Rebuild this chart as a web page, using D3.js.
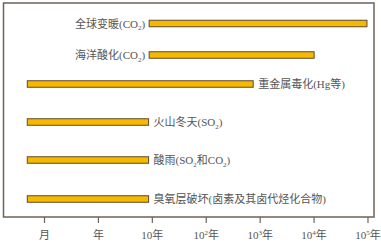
<!DOCTYPE html>
<html>
<head>
<meta charset="utf-8">
<script src="https://cdn.jsdelivr.net/npm/d3@7"></script>
<style>
  body { margin: 0; background: #fff; }
  text { font-family: "Liberation Serif", "Noto Sans CJK SC", serif; fill: #555; }
</style>
</head>
<body>
<div id="chart"></div>
<script>
// Data
const categories = ["全球变暖(CO_2)", "海洋酸化(CO_2)", "重金属毒化(Hg等)", "火山冬天(SO_2)", "酸雨(SO_2和CO_2)", "臭氧层破坏(卤素及其卤代烃化合物)"];
const barStart = [1.95, 1.95, -0.31, -0.31, -0.31, -0.31]; // in tick units (0 = 月)
const barEnd = [5.99, 5.01, 3.88, 1.94, 1.94, 1.94];
const labelSide = ["left", "left", "right", "right", "right", "right"];
const tickLabels = ["月", "年", "10年", "10^2年", "10^3年", "10^4年", "10^5年"];

const W = 381, H = 246;
const frame = { left: 3.5, top: 3, right: 374, bottom: 217 };
const lineColor = "#6e6259";

const svg = d3.select("#chart").append("svg")
    .attr("width", W)
    .attr("height", H);

const x = d3.scaleLinear()
    .domain([0, tickLabels.length - 1])
    .range([44, 367.5]);

// rows are not evenly spaced in the original
const y = d3.scaleOrdinal()
    .domain(categories)
    .range([23.5, 55, 84, 122, 160, 199]);

const barH = 6.5;

// write text with _x subscripts and ^x superscripts
function richText(sel, str) {
    const parts = str.split(/([_^]\d)/).filter(s => s.length);
    let back = 0;
    parts.forEach(p => {
        const t = sel.append("tspan");
        if (p[0] === "_" || p[0] === "^") {
            const shift = p[0] === "_" ? 2.5 : -4;
            t.attr("font-size", "7px").attr("dy", back + shift).text(p[1]);
            back = -shift;
        } else {
            if (back) t.attr("dy", back);
            back = 0;
            t.text(p);
        }
    });
}

// Frame
svg.append("rect")
    .attr("x", frame.left)
    .attr("y", frame.top)
    .attr("width", frame.right - frame.left)
    .attr("height", frame.bottom - frame.top)
    .attr("fill", "none")
    .attr("stroke", lineColor)
    .attr("stroke-width", 1.5);

// Axis
const axis = d3.axisBottom(x)
    .tickValues(d3.range(tickLabels.length))
    .tickSize(6)
    .tickFormat("");

const gx = svg.append("g")
    .attr("transform", `translate(0,${frame.bottom})`)
    .call(axis);
gx.select(".domain").remove();
gx.selectAll(".tick line").attr("stroke", lineColor).attr("stroke-width", 1.2);

gx.selectAll(".tick").append("text")
    .attr("y", 22)
    .attr("text-anchor", "middle")
    .attr("font-size", "11px")
    .each(function(d) { richText(d3.select(this), tickLabels[d]); });

// Bars
const rows = categories.map((c, i) => ({ c, s: barStart[i], e: barEnd[i], side: labelSide[i] }));

svg.selectAll(".bar")
    .data(rows)
    .join("rect")
    .attr("class", "bar")
    .attr("x", d => x(d.s))
    .attr("y", d => y(d.c) - barH / 2)
    .attr("width", d => x(d.e) - x(d.s))
    .attr("height", barH)
    .attr("fill", "#f6b900")
    .attr("stroke", "#5e4a2c")
    .attr("stroke-width", 1);

svg.selectAll(".label")
    .data(rows)
    .join("text")
    .attr("class", "label")
    .attr("x", d => d.side === "left" ? x(d.s) - 4 : x(d.e) + 5)
    .attr("y", d => y(d.c) + 4)
    .attr("text-anchor", d => d.side === "left" ? "end" : "start")
    .attr("font-size", "11px")
    .each(function(d) { richText(d3.select(this), d.c); });
</script>
</body>
</html>
